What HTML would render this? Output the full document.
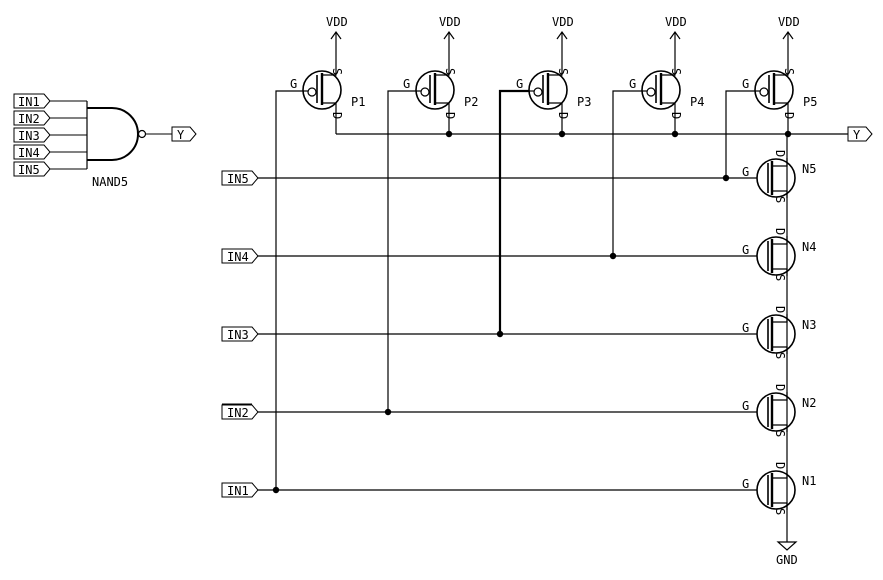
<!DOCTYPE html>
<html><head><meta charset="utf-8"><style>
html,body{margin:0;padding:0;background:#fff;}
svg{display:block;}
text{font-family:"DejaVu Sans Mono","Liberation Mono",monospace;font-size:12px;fill:#000;}
</style></head><body>
<svg width="883" height="580" viewBox="0 0 883 580" xmlns="http://www.w3.org/2000/svg">
<defs>
<g id="pmos" fill="none" stroke="#000">
 <circle cx="0" cy="0" r="19" stroke-width="1.6"/>
 <line x1="-19" y1="1" x2="-14" y2="1" stroke-width="1.2"/>
 <circle cx="-10" cy="2" r="4" stroke-width="1.2"/>
 <line x1="-5" y1="-15" x2="-5" y2="13" stroke-width="1.6"/>
 <line x1="0" y1="-17" x2="0" y2="15" stroke-width="2.4"/>
 <polyline points="0,-15 14,-15 14,-58" stroke-width="1.2"/>
 <polyline points="0,13 14,13 14,44" stroke-width="1.2"/>
 <polyline points="9,-51 14,-58 19,-51" stroke-width="1.2"/>
</g>
<g id="nmos" fill="none" stroke="#000">
 <circle cx="0" cy="0" r="19" stroke-width="1.6"/>
 <line x1="-8" y1="-15" x2="-8" y2="15" stroke-width="1.6"/>
 <line x1="-4" y1="-17" x2="-4" y2="17" stroke-width="2.4"/>
 <polyline points="-4,-12 11,-12 11,-20" stroke-width="1.2"/>
 <polyline points="-4,13 11,13 11,20" stroke-width="1.2"/>
</g>
<path id="lab" d="M0,-7 H30 L36,0 L30,7 H0 Z" fill="#fff" stroke="#000" stroke-width="1"/>
</defs>

<!-- NAND symbol -->
<g stroke="#000" fill="none" stroke-width="1">
 <line x1="50" y1="101" x2="87" y2="101"/><line x1="50" y1="118" x2="87" y2="118"/>
 <line x1="50" y1="135" x2="87" y2="135"/><line x1="50" y1="152" x2="87" y2="152"/>
 <line x1="50" y1="169" x2="87" y2="169"/>
 <line x1="87" y1="101" x2="87" y2="169" stroke-width="1.2"/>
 <path d="M87,108 H112 A26,26 0 0 1 112,160 H87" stroke-width="2"/>
 <circle cx="142" cy="134" r="3.5" stroke-width="1.2"/>
 <line x1="146" y1="134" x2="172" y2="134"/>
</g>
<use href="#lab" x="14" y="101"/><use href="#lab" x="14" y="118"/><use href="#lab" x="14" y="135"/>
<use href="#lab" x="14" y="152"/><use href="#lab" x="14" y="169"/>
<text x="18" y="106">IN1</text><text x="18" y="123">IN2</text><text x="18" y="140">IN3</text>
<text x="18" y="157">IN4</text><text x="18" y="174">IN5</text>
<path d="M172,127 H190 L196,134 L190,141 H172 Z" fill="#fff" stroke="#000"/>
<text x="177" y="139">Y</text>
<text x="92" y="186">NAND5</text>

<!-- wires -->
<g stroke="#000" fill="none" stroke-width="1.2">
 <line x1="336" y1="134" x2="848" y2="134"/>
 <line x1="787" y1="134" x2="787" y2="542"/>
 <polyline points="303,91 276,91 276,490"/>
 <polyline points="416,91 388,91 388,412"/>
 <polyline points="529,91 500,91 500,334" stroke-width="2.2"/>
 <polyline points="642,91 613,91 613,256"/>
 <polyline points="755,91 726,91 726,178"/>
 <line x1="258" y1="178" x2="757" y2="178"/>
 <line x1="258" y1="256" x2="757" y2="256"/>
 <line x1="258" y1="334" x2="757" y2="334"/>
 <line x1="258" y1="412" x2="757" y2="412"/>
 <line x1="258" y1="490" x2="757" y2="490"/>
 <path d="M778,542 H796 L787,550 Z"/>
</g>
<g fill="#000">
 <circle cx="449" cy="134" r="3.2"/><circle cx="562" cy="134" r="3.2"/>
 <circle cx="675" cy="134" r="3.2"/><circle cx="788" cy="134" r="3.2"/>
 <circle cx="726" cy="178" r="3.2"/><circle cx="613" cy="256" r="3.2"/>
 <circle cx="500" cy="334" r="3.2"/><circle cx="388" cy="412" r="3.2"/>
 <circle cx="276" cy="490" r="3.2"/>
</g>

<!-- PMOS -->
<use href="#pmos" x="322" y="90"/><use href="#pmos" x="435" y="90"/>
<use href="#pmos" x="548" y="90"/><use href="#pmos" x="661" y="90"/>
<use href="#pmos" x="774" y="90"/>
<g>
 <text x="326" y="26">VDD</text><text x="439" y="26">VDD</text><text x="552" y="26">VDD</text>
 <text x="665" y="26">VDD</text><text x="778" y="26">VDD</text>
 <text x="290" y="88">G</text><text x="403" y="88">G</text><text x="516" y="88">G</text>
 <text x="629" y="88">G</text><text x="742" y="88">G</text>
 <text x="351" y="106">P1</text><text x="464" y="106">P2</text><text x="577" y="106">P3</text>
 <text x="690" y="106">P4</text><text x="803" y="106">P5</text>
</g>
<g font-size="11">
 <text transform="translate(333,68) rotate(90)">S</text><text transform="translate(446,68) rotate(90)">S</text>
 <text transform="translate(559,68) rotate(90)">S</text><text transform="translate(672,68) rotate(90)">S</text>
 <text transform="translate(785,68) rotate(90)">S</text>
 <text transform="translate(333,112) rotate(90)">D</text><text transform="translate(446,112) rotate(90)">D</text>
 <text transform="translate(559,112) rotate(90)">D</text><text transform="translate(672,112) rotate(90)">D</text>
 <text transform="translate(785,112) rotate(90)">D</text>
</g>
<path d="M848,127 H866 L872,134 L866,141 H848 Z" fill="#fff" stroke="#000"/>
<text x="853" y="139">Y</text>

<!-- NMOS -->
<use href="#nmos" x="776" y="178"/><use href="#nmos" x="776" y="256"/>
<use href="#nmos" x="776" y="334"/><use href="#nmos" x="776" y="412"/>
<use href="#nmos" x="776" y="490"/>
<g>
 <text x="742" y="176">G</text><text x="742" y="254">G</text><text x="742" y="332">G</text>
 <text x="742" y="410">G</text><text x="742" y="488">G</text>
 <text x="802" y="173">N5</text><text x="802" y="251">N4</text><text x="802" y="329">N3</text>
 <text x="802" y="407">N2</text><text x="802" y="485">N1</text>
 <text x="776" y="564">GND</text>
</g>
<g font-size="11">
 <text transform="translate(776,150) rotate(90)">D</text><text transform="translate(776,228) rotate(90)">D</text>
 <text transform="translate(776,306) rotate(90)">D</text><text transform="translate(776,384) rotate(90)">D</text>
 <text transform="translate(776,462) rotate(90)">D</text>
 <text transform="translate(776,196) rotate(90)">S</text><text transform="translate(776,274) rotate(90)">S</text>
 <text transform="translate(776,352) rotate(90)">S</text><text transform="translate(776,430) rotate(90)">S</text>
 <text transform="translate(776,508) rotate(90)">S</text>
</g>

<!-- input labels -->
<use href="#lab" x="222" y="178"/><use href="#lab" x="222" y="256"/><use href="#lab" x="222" y="334"/>
<use href="#lab" x="222" y="412"/><use href="#lab" x="222" y="490"/>
<line x1="222" y1="404.5" x2="252" y2="404.5" stroke="#000" stroke-width="2"/>
<text x="227" y="183">IN5</text><text x="227" y="261">IN4</text><text x="227" y="339">IN3</text>
<text x="227" y="417">IN2</text><text x="227" y="495">IN1</text>
</svg>
</body></html>
